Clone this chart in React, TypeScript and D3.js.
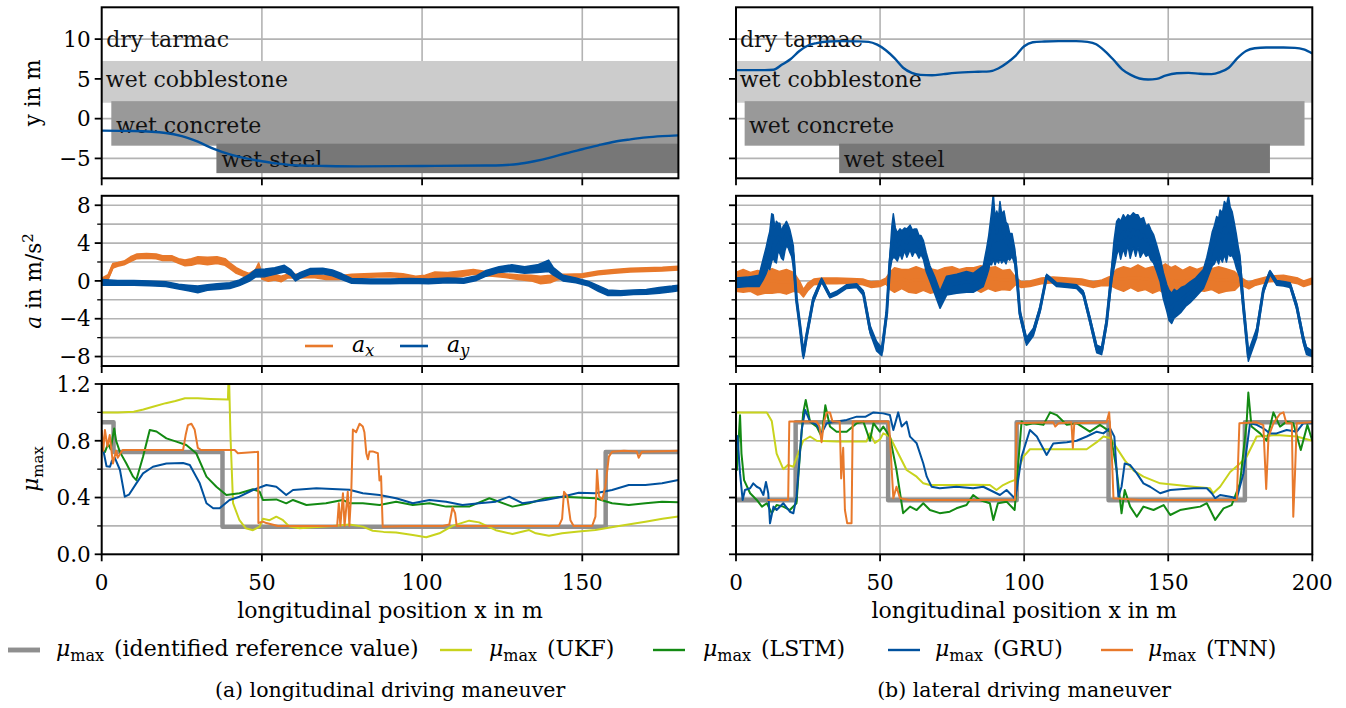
import React from 'react';
import * as d3 from 'd3';

// ---------------- data ----------------
// top panels: lateral position y over x
const yLong: [number, number][] = [[0,-1.5],[10,-1.55],[20,-1.8],[25,-2.2],[30,-2.9],[35,-3.8],[40,-4.5],[45,-5.0],[50,-5.35],[55,-5.65],[60,-5.85],[70,-5.95],[80,-6.0],[100,-5.95],[120,-5.9],[125,-5.85],[130,-5.7],[135,-5.35],[140,-4.9],[145,-4.35],[150,-3.85],[155,-3.35],[160,-2.9],[165,-2.6],[170,-2.35],[175,-2.2],[180,-2.1]];
const yLat: [number, number][] = [[0,6.1],[5,6.1],[10,6.1],[13,6.15],[16,6.8],[19,7.5],[22,8.5],[25,9.2],[28,9.5],[32,9.7],[36,9.75],[42,9.72],[46,9.65],[49,9.3],[52,8.6],[55,7.6],[58,6.4],[61,5.75],[64,5.5],[68,5.45],[72,5.6],[76,5.75],[84,5.9],[88,5.95],[91,6.3],[94,7.0],[97,7.9],[100,9.1],[103,9.6],[107,9.7],[112,9.75],[118,9.75],[122,9.65],[125,9.35],[128,8.5],[131,7.4],[134,6.2],[137,5.5],[140,5.05],[143,4.92],[146,5.0],[149,5.4],[153,5.7],[157,5.75],[161,5.65],[165,5.6],[168,5.85],[171,6.4],[174,7.6],[177,8.5],[180,8.85],[184,8.95],[190,8.95],[194,8.9],[197,8.7],[200,8.2]];

// surfaces: x-start/x-end, y-low/y-high (m); label anchor (m)
const surfaceNames = ['wet cobblestone', 'wet concrete', 'wet steel'];
const surfaceX: [number, number][] = [[0, 210], [3, 197.3], [35.8, 185.3]];
const surfaceY: [number, number][] = [[2.0, 7.25], [-3.4, 2.2], [-6.85, -3.15]];
const surfaceLabelAt: [number, number][] = [[1.3, 5], [4.5, -0.85], [37.4, -5.1]];
const tarmacLabelAt: [number, number] = [1.4, 10];

// acceleration: [x, mean, noise half-width]
const axLong: [number, number, number][] = [[0,0.1,0.2],[2,0.4,0.25],[3.5,1.6,0.25],[5,1.75,0.2],[7,1.9,0.2],[9,2.3,0.25],[11,2.6,0.25],[14,2.65,0.25],[17,2.6,0.25],[19,2.4,0.25],[22,2.4,0.25],[24,2.1,0.25],[26,1.9,0.3],[28,2.0,0.35],[30,2.2,0.35],[33,2.1,0.4],[36,2.2,0.35],[38.5,2.0,0.35],[40,1.6,0.3],[42,1.1,0.3],[44,0.8,0.25],[46,0.55,0.25],[48,0.9,0.3],[49,1.5,0.4],[50,0.5,0.3],[52,0.2,0.25],[54,0.4,0.3],[56,0.2,0.3],[58,0.5,0.2],[62,0.5,0.2],[66,0.55,0.2],[70,0.35,0.2],[74,0.35,0.2],[78,0.5,0.2],[82,0.55,0.2],[86,0.6,0.2],[90,0.65,0.2],[94,0.55,0.2],[98,0.3,0.2],[101,0.3,0.3],[104,0.6,0.35],[108,0.6,0.3],[112,0.75,0.3],[116,0.95,0.25],[119,0.8,0.25],[122,0.7,0.2],[126,0.55,0.2],[130,0.4,0.25],[134,0.3,0.3],[137,0.1,0.4],[140,0.2,0.4],[142,0.4,0.3],[145,0.5,0.2],[150,0.55,0.2],[155,0.85,0.2],[160,1.0,0.2],[165,1.15,0.2],[170,1.2,0.2],[175,1.25,0.2],[180,1.35,0.2]];
const ayLong: [number, number, number][] = [[0,-0.15,0.3],[5,-0.2,0.25],[10,-0.2,0.25],[15,-0.25,0.25],[20,-0.35,0.25],[24,-0.6,0.25],[27,-0.75,0.3],[30,-0.9,0.35],[33,-0.7,0.3],[36,-0.6,0.3],[40,-0.5,0.3],[43,-0.2,0.3],[46,0.3,0.35],[48,0.8,0.4],[51,0.85,0.4],[54,1.05,0.35],[57,1.3,0.35],[59,0.9,0.3],[60.5,0.3,0.3],[62,0.6,0.3],[65,1.0,0.3],[69,1.05,0.3],[72,0.85,0.3],[75,0.45,0.3],[78,0.0,0.25],[84,-0.05,0.25],[90,-0.05,0.25],[96,0.0,0.25],[102,-0.05,0.25],[108,0.05,0.25],[113,0.0,0.25],[117,0.3,0.25],[120,0.8,0.3],[124,1.2,0.3],[128,1.35,0.35],[132,1.15,0.35],[136,1.3,0.4],[139.5,1.6,0.6],[141,1.0,0.4],[144,0.3,0.3],[148,0.05,0.25],[152,-0.3,0.25],[155,-0.8,0.3],[158,-1.25,0.3],[162,-1.3,0.25],[166,-1.2,0.25],[170,-1.15,0.25],[174,-1.0,0.3],[178,-0.85,0.3],[180,-0.75,0.3]];
const axLat: [number, number, number][] = [[0,-0.1,1.0],[2.5,0.0,1.2],[5,-0.1,1.0],[7.5,-0.2,1.3],[10,-0.2,1.1],[12.5,0.0,1.3],[15,-0.1,1.1],[17.5,-0.1,1.3],[20,-0.1,1.0],[22,-0.6,0.6],[23.4,-1.3,0.4],[25,-0.6,0.4],[27,-0.1,0.3],[30,0.0,0.3],[35,0.0,0.3],[40,0.0,0.25],[44,-0.1,0.3],[47,-0.4,0.3],[50,-0.3,0.3],[52,0.0,0.3],[53.4,0.0,0.9],[55,0.1,1.3],[57.5,0.2,1.0],[60,0.0,1.2],[62.5,0.1,1.4],[65,0.1,1.1],[67.5,0.0,1.3],[70,0.0,1.1],[72.5,0.2,1.2],[75,0.1,1.4],[77.5,0.1,1.1],[80,0.1,1.3],[82.5,0.3,1.1],[85,0.2,1.4],[87.5,0.3,1.1],[90,0.2,1.3],[92.5,0.1,1.0],[95,0.1,1.1],[97,0.0,0.4],[99,-0.4,0.3],[102,-0.3,0.3],[106,0.0,0.3],[110,0.1,0.3],[115,0.0,0.3],[120,-0.1,0.3],[124,-0.4,0.3],[127,-0.2,0.3],[130,0.0,0.5],[132,0.2,1.0],[134.5,0.2,1.3],[137,0.3,1.0],[139.5,0.3,1.4],[142,0.2,1.1],[144.5,0.1,1.4],[147,0.2,1.2],[149,0.2,1.6],[151,0.1,1.3],[152.5,0.0,1.6],[155,-0.1,1.2],[157.5,0.1,1.4],[160,0.1,1.1],[162.5,0.2,1.3],[165,0.2,1.1],[167.5,0.1,1.4],[170,0.1,1.2],[173,0.0,1.0],[175,0.0,0.4],[178,-0.5,0.35],[180,-0.2,0.3],[185,0.2,0.3],[190,0.3,0.3],[195,0.0,0.3],[197,-0.3,0.3],[200,0.0,0.3]];
const ayLat: [number, number, number][] = [[0,-0.2,0.5],[4,-0.1,0.5],[8,0.0,0.6],[9.4,1.2,1.1],[10.5,2.2,1.4],[11.2,3.0,1.6],[11.7,3.2,2.0],[12.4,4.6,2.5],[12.9,4.7,2.3],[13.5,3.8,1.8],[14,4.1,2.2],[14.6,4.6,1.5],[15.2,4.5,1.6],[15.8,3.8,1.4],[16.4,4.0,1.8],[17,4.6,1.4],[17.5,5.0,1.3],[18.1,4.7,1.2],[18.7,4.2,1.2],[19.3,3.6,1.0],[19.9,2.6,1.1],[20.4,0.5,0.6],[21,-2.0,0.3],[22.2,-4.8,0.3],[23.4,-7.9,0.3],[24.5,-5.8,0.3],[26.8,-2.0,0.3],[29.7,0.1,0.2],[32.6,-1.6,0.2],[34.9,-1.3,0.2],[38.4,-0.6,0.2],[41.9,-0.5,0.2],[44.2,-1.3,0.25],[46.5,-5.1,0.4],[48.8,-6.9,0.5],[50.6,-7.5,0.4],[52.3,-3.4,0.4],[53.4,1.9,0.8],[54.1,4.0,1.8],[54.6,4.8,2.3],[55.3,4.0,1.6],[56,3.6,1.5],[56.9,4.2,1.3],[57.6,3.8,1.5],[58.5,4.4,1.2],[59.3,4.0,1.5],[60.4,4.6,1.3],[61.2,4.0,1.4],[62,4.3,1.2],[62.7,4.2,1.3],[63.5,3.6,1.2],[64.2,3.8,1.0],[65,3.3,1.0],[66,2.0,1.0],[67.3,0.8,0.8],[69,-0.5,0.9],[70.8,-2.0,0.9],[73.1,-0.5,1.0],[76.6,-0.3,1.0],[80,-0.1,1.1],[82.3,-0.2,1.0],[85.8,0.5,1.1],[87,2.0,1.5],[87.7,3.0,1.8],[88.1,3.8,2.0],[88.7,4.5,2.8],[89.3,5.8,3.5],[89.9,4.2,2.5],[90.5,4.8,2.6],[91.1,4.3,2.4],[91.6,5.4,3.0],[92.2,4.5,2.6],[93,4.8,2.6],[93.7,4.0,2.2],[94.3,4.2,1.8],[95,3.6,1.4],[95.8,3.8,1.2],[96.8,2.5,0.8],[97.6,0.0,0.6],[98.5,-3.4,0.4],[100.8,-6.4,0.4],[103.2,-5.4,0.4],[105.5,-3.0,0.3],[107.8,0.5,0.2],[109,0.2,0.2],[111.3,-0.4,0.2],[115,-0.5,0.2],[118.2,-0.6,0.2],[120.5,-1.3,0.25],[122.8,-4.1,0.3],[125.2,-7.2,0.4],[126.9,-7.4,0.4],[128.6,-4.4,0.4],[130.4,0.8,0.8],[131.2,2.8,1.5],[132.1,4.5,1.8],[132.8,5.0,1.6],[133.5,4.3,2.0],[134.4,5.2,1.8],[135.2,4.6,2.0],[136,5.4,1.6],[136.8,4.6,2.2],[137.9,5.4,1.8],[138.7,4.8,2.2],[139.5,5.3,1.7],[140.3,4.5,2.0],[141.4,4.9,1.8],[142.3,4.2,1.6],[143.2,4.4,1.6],[144,3.8,1.6],[144.9,3.4,1.5],[146,2.4,1.4],[147.2,1.2,1.3],[148.3,-0.5,1.4],[149.5,-1.8,1.4],[150.3,-2.6,1.6],[151.2,-2.9,1.6],[152.1,-2.4,1.5],[153,-2.4,1.3],[154.5,-2.0,1.3],[156,-1.6,1.1],[157.6,-1.2,1.1],[159.5,-0.7,1.0],[161,-0.2,1.0],[162.2,0.2,1.0],[163.4,1.3,1.2],[164.5,2.5,1.5],[165.3,3.4,1.8],[166,3.8,2.0],[166.8,4.6,2.2],[167.5,4.2,2.4],[168,5.0,2.5],[168.8,4.6,2.6],[169.5,5.6,2.8],[170.2,5.0,3.0],[170.9,6.0,3.0],[171.5,5.2,2.6],[172.2,5.0,2.3],[172.9,4.2,2.0],[173.6,3.2,1.8],[174.3,2.2,1.4],[174.9,1.5,1.2],[176.1,-2.7,0.6],[177.8,-8.0,0.5],[180.7,-5.5,0.5],[183,-1.0,0.3],[185.3,0.9,0.2],[187.6,-0.2,0.25],[190,-0.3,0.25],[192.3,-0.45,0.25],[194.6,-2.7,0.3],[196.9,-6.2,0.4],[198,-7.4,0.4],[200,-7.7,0.3]];

// friction estimates [x, mu]
const refLong: [number, number][] = [[0,0.93],[3.7,0.93],[3.7,0.72],[37.7,0.72],[37.7,0.195],[157.3,0.195],[157.3,0.72],[180,0.72]];
const ukfLong: [number, number][] = [[0,1.0],[5,1.0],[10,1.005],[13,1.02],[16,1.04],[20,1.065],[23,1.08],[26,1.1],[30,1.1],[34,1.095],[39.4,1.09],[39.6,1.25],[39.8,1.2],[40.2,0.83],[41,0.36],[43,0.24],[45,0.183],[47.2,0.17],[49.3,0.195],[50.3,0.25],[52.4,0.24],[54.5,0.265],[56.6,0.24],[58.6,0.195],[61.8,0.183],[66,0.19],[72,0.2],[77.3,0.21],[81.5,0.195],[84.6,0.166],[88,0.158],[91.9,0.153],[97.1,0.136],[101.3,0.12],[105.4,0.148],[109.5,0.2],[114.7,0.237],[117.8,0.225],[123,0.17],[128.2,0.143],[133.4,0.171],[135.5,0.148],[139.6,0.131],[143.7,0.148],[148.9,0.16],[154.1,0.171],[161.4,0.2],[169.7,0.23],[175,0.25],[180,0.267]];
const lstmLong: [number, number][] = [[0,0.74],[1,0.72],[2,0.78],[2.8,0.74],[3.9,0.887],[4.5,0.8],[5.7,0.72],[7.7,0.64],[9.8,0.547],[10.8,0.523],[12.9,0.688],[15,0.876],[17.1,0.865],[20.2,0.817],[23.3,0.794],[26.4,0.77],[29.5,0.712],[32.7,0.547],[35.8,0.476],[38.9,0.418],[43,0.43],[47.2,0.458],[49.3,0.442],[50.3,0.383],[54.5,0.387],[57.6,0.359],[59.7,0.383],[63.9,0.347],[70,0.359],[75.2,0.383],[77.3,0.36],[81.5,0.36],[86.7,0.347],[91.9,0.371],[97.1,0.347],[102.3,0.36],[107.5,0.336],[114.7,0.336],[121,0.395],[128.2,0.336],[133.4,0.36],[138.5,0.395],[143.7,0.406],[148.9,0.4],[154.1,0.395],[159.3,0.36],[164.5,0.347],[169.7,0.36],[174.9,0.371],[180,0.367]];
const gruLong: [number, number][] = [[0,0.78],[0.8,0.7],[1.5,0.62],[2.6,0.617],[3.2,0.66],[4.1,0.68],[5.7,0.594],[7.2,0.406],[8.5,0.42],[10.8,0.5],[12.9,0.57],[16,0.617],[20.2,0.64],[25.4,0.643],[27.5,0.629],[30.6,0.5],[32.7,0.36],[34.8,0.324],[36.8,0.324],[39.9,0.383],[43,0.406],[47.2,0.453],[51.4,0.488],[54.5,0.476],[57.6,0.418],[59.7,0.453],[67,0.465],[72,0.46],[77.3,0.455],[81.5,0.43],[86.7,0.418],[91.9,0.395],[97.1,0.36],[102.3,0.383],[107.5,0.371],[112.6,0.347],[117.8,0.36],[123,0.371],[127.2,0.406],[131.3,0.36],[138.5,0.383],[143.7,0.406],[148.9,0.434],[154.1,0.43],[159.3,0.453],[164.5,0.488],[169.7,0.488],[174.9,0.5],[180,0.523]];
const tnnLong: [number, number][] = [[0,0.876],[0.5,0.73],[1,0.876],[1.8,0.76],[2.5,0.84],[3.5,0.64],[4.5,0.73],[5,0.68],[6.5,0.735],[15,0.735],[25.4,0.735],[26.2,0.84],[26.9,0.91],[28,0.92],[29,0.88],[30,0.75],[31,0.735],[41.5,0.735],[42.5,0.712],[48,0.72],[48.8,0.722],[48.9,0.22],[50.3,0.23],[51.4,0.22],[55,0.2],[65,0.2],[73.5,0.2],[74,0.36],[74.5,0.2],[75.3,0.43],[75.8,0.2],[76.8,0.44],[77.3,0.2],[77.9,0.44],[78.4,0.88],[79.4,0.86],[80.5,0.92],[81.5,0.9],[82,0.86],[82.6,0.71],[83.1,0.67],[83.6,0.725],[84.6,0.725],[86.2,0.712],[86.7,0.52],[87.2,0.55],[87.7,0.195],[95,0.2],[106.5,0.2],[108.5,0.21],[109.5,0.33],[110.3,0.29],[110.8,0.2],[125,0.2],[142.7,0.2],[143.7,0.25],[144.3,0.44],[145.3,0.41],[146.3,0.24],[147.3,0.2],[153.1,0.2],[154.1,0.265],[154.6,0.594],[155.2,0.41],[156.2,0.383],[157.2,0.476],[158.3,0.688],[159.3,0.723],[163,0.73],[167,0.725],[167.6,0.68],[168.6,0.723],[180,0.73]];

const refLat: [number, number][] = [[0,0.38],[20.7,0.38],[20.7,0.93],[52.8,0.93],[52.8,0.38],[97.4,0.38],[97.4,0.93],[129.3,0.93],[129.3,0.38],[176.6,0.38],[176.6,0.93],[200,0.93]];
const ukfLat: [number, number][] = [[0,1.0],[5,1.0],[10.7,1.0],[12.4,0.94],[14.1,0.71],[16.4,0.6],[18,0.63],[19.9,0.617],[21,0.68],[23.3,0.8],[25.7,0.83],[28,0.8],[35,0.795],[45.3,0.795],[46.5,0.852],[48.2,0.785],[50,0.81],[51.1,0.852],[53.4,0.829],[55.7,0.735],[59.2,0.594],[62.7,0.547],[65,0.5],[67.3,0.488],[75,0.488],[82,0.49],[88.1,0.488],[90.4,0.453],[92.7,0.488],[95,0.51],[96.7,0.523],[97.4,0.57],[99.7,0.687],[102,0.74],[110,0.74],[121.7,0.74],[125.2,0.79],[127.5,0.83],[129.8,0.82],[132.1,0.75],[135,0.66],[138,0.59],[141.4,0.547],[147.2,0.5],[153,0.488],[158.8,0.476],[164.5,0.465],[165.6,0.43],[168,0.476],[171.5,0.58],[174.9,0.64],[177.2,0.687],[180.7,0.83],[187.6,0.84],[194.6,0.83],[200,0.8]];
const lstmLat: [number, number][] = [[0.3,0.59],[1.4,0.98],[1.9,0.71],[2.8,0.523],[4.9,0.43],[7.2,0.383],[9,0.336],[10.7,0.36],[12.4,0.29],[14.1,0.347],[16.4,0.336],[18.7,0.312],[21,0.36],[22.2,0.71],[23.3,0.994],[24.2,1.087],[25.7,0.935],[28,0.9],[29.7,0.829],[31,1.05],[32.6,0.9],[34.9,0.864],[38.4,0.864],[41.9,0.924],[44.2,0.935],[46.5,0.8],[47.7,0.924],[49.9,0.864],[51.1,0.9],[53.4,0.829],[55.7,0.594],[58,0.29],[60.4,0.336],[62.7,0.312],[65,0.36],[67.3,0.312],[70.7,0.29],[74.2,0.3],[76.5,0.324],[80,0.347],[82.3,0.418],[84.6,0.383],[88.1,0.36],[89.3,0.242],[90.9,0.36],[93.9,0.371],[96.7,0.312],[97.4,0.5],[99.1,0.935],[100.8,0.912],[103.2,0.924],[106.7,0.912],[109,1.0],[111.3,0.981],[114.8,0.912],[118.2,0.924],[122.8,0.864],[126.3,0.912],[129.8,0.864],[132.1,0.594],[133.8,0.289],[134.9,0.453],[136.8,0.336],[139.1,0.265],[141.4,0.336],[144.9,0.312],[148.4,0.347],[150.7,0.277],[154.1,0.312],[157.6,0.324],[161.1,0.336],[163.4,0.36],[166.3,0.242],[169.2,0.324],[172,0.347],[174.9,0.5],[177.2,0.924],[177.8,1.14],[178.9,0.9],[181.9,0.852],[184.2,0.8],[186.5,1.0],[188.8,0.9],[191.1,0.935],[193.4,0.924],[196,0.735],[198.3,0.912],[200,0.8]];
const gruLat: [number, number][] = [[0.5,0.84],[1.4,0.57],[2.3,0.383],[3.1,0.453],[4.9,0.465],[6,0.5],[7.2,0.476],[8.3,0.465],[9.5,0.418],[10.4,0.51],[11.2,0.43],[11.8,0.218],[13,0.336],[14.1,0.312],[16.4,0.36],[18.7,0.3],[19.9,0.289],[21,0.406],[22.8,0.876],[24,1.017],[25.7,0.935],[28,0.912],[29.7,0.852],[31.5,0.924],[34.9,0.935],[38.4,0.947],[41.9,0.97],[45,0.97],[47.7,1.0],[51.1,0.993],[53.4,0.981],[54.6,0.876],[56.3,1.0],[57.5,0.9],[59.2,0.935],[60.4,0.829],[62.7,0.782],[65,0.64],[66.2,0.547],[67.9,0.476],[70.7,0.465],[76.5,0.476],[82.3,0.465],[85.8,0.476],[88.1,0.453],[91.6,0.418],[93.9,0.453],[96.7,0.395],[97.4,0.453],[99.1,0.687],[102,0.876],[104.4,0.83],[107.8,0.7],[110.1,0.78],[114.8,0.79],[118.2,0.8],[121.7,0.83],[125.2,0.864],[127.5,0.852],[129.8,0.888],[131.3,0.829],[132.7,0.406],[133.8,0.476],[134.9,0.64],[136.8,0.629],[139.1,0.57],[141.4,0.5],[143.7,0.476],[147.2,0.43],[150.7,0.453],[154.1,0.458],[158.8,0.465],[163.4,0.465],[165.1,0.43],[166.3,0.395],[168,0.418],[171.5,0.406],[173.8,0.395],[176.1,0.57],[178.4,0.924],[180.7,0.912],[183,0.888],[185.3,0.852],[187.6,0.852],[191.1,0.876],[194.6,0.864],[196.9,0.924],[200,0.924]];
const tnnLat: [number, number][] = [[10.9,0.383],[18.1,0.383],[18.5,0.935],[28,0.935],[29,0.9],[29.7,0.79],[30.5,0.93],[31.5,1.0],[32.6,1.0],[33.5,0.935],[36,0.935],[36.5,0.535],[37.2,0.75],[37.8,0.312],[38.6,0.218],[40.1,0.218],[40.5,0.935],[52.8,0.935],[53.4,0.829],[54.6,0.395],[55.7,0.476],[56.9,0.395],[60,0.383],[80,0.383],[96.8,0.383],[97.4,0.923],[110.1,0.93],[110.8,0.9],[111.9,0.923],[116.4,0.93],[116.9,0.75],[117.4,0.923],[128.6,0.93],[129.5,1.0],[130.4,0.712],[131,0.395],[140,0.383],[173.8,0.383],[174.7,0.923],[180.7,0.93],[183,0.91],[184,0.46],[184.8,0.829],[186.5,0.923],[188.8,0.99],[190,1.0],[191,0.923],[192.9,0.923],[193.4,0.265],[194,0.57],[194.6,0.923],[200,0.93]];

// tick values
const xTicksLong = [0, 50, 100, 150];
const xTicksLat = [0, 50, 100, 150, 200];
const yTicksTop = [-5, 0, 5, 10];
const yTicksMid = [-8, -4, 0, 4, 8];
const yMinorMid = [-6, -2, 2, 6];
const yTicksBot = [0, 0.4, 0.8, 1.2];
const yMinorBot = [0.2, 0.6, 1.0];

const legendNames = ['(identified reference value)', '(UKF)', '(LSTM)', '(GRU)', '(TNN)'];
const captions = ['(a) longitudinal driving maneuver', '(b) lateral driving maneuver'];

// ---------------- styles / layout ----------------
const FONT = "'DejaVu Serif', serif";
const FS = 21.5;
const FS_LEG = 22;
const FS_CAP = 20.5;
const BLUE = '#00519e';
const ORANGE = '#e8792b';
const GREEN = '#138a13';
const YG = '#c8d31d';
const GRAYREF = '#8f8f8f';
const GRID = '#b3b3b3';
const SURF_COLORS = ['#cccccc', '#999999', '#777777'];
const MU_COLORS = [GRAYREF, YG, GREEN, BLUE, ORANGE];
const MU_WIDTHS = [4.5, 2, 2, 2, 2];
const SVG_W = 1346;
const SVG_H = 708;

const COLS = [
  { x0: 101.7, x1: 678.4, dom: [0, 180], ticks: xTicksLong },
  { x0: 736, x1: 1312.3, dom: [0, 200], ticks: xTicksLat },
];
const ROWS = [
  { y0: 7.3, y1: 178.3, dom: [-7.5, 14], major: yTicksTop, minor: [] as number[] },
  { y0: 195.8, y1: 366, dom: [-9, 9], major: yTicksMid, minor: yMinorMid },
  { y0: 384, y1: 554.3, dom: [0, 1.2], major: yTicksBot, minor: yMinorBot },
];

function fmt(r: number, v: number) {
  if (r === 2) return v.toFixed(1);
  return v < 0 ? '\u2212' + Math.abs(v) : String(v);
}

function Frame(props: { c: number; r: number; children?: any }) {
  const { c, r, children } = props;
  const col = COLS[c];
  const row = ROWS[r];
  const x = d3.scaleLinear().domain(col.dom).range([col.x0, col.x1]);
  const y = d3.scaleLinear().domain(row.dom).range([row.y1, row.y0]);
  const id = 'clip-' + c + '-' + r;
  const gridY = [...row.major, ...row.minor].filter((v) => v > row.dom[0] && v < row.dom[1]);
  const gridX = col.ticks.filter((v) => v > col.dom[0] && v < col.dom[1]);
  return (
    <g>
      <defs>
        <clipPath id={id}>
          <rect x={col.x0} y={row.y0} width={col.x1 - col.x0} height={row.y1 - row.y0} />
        </clipPath>
      </defs>
      <g clipPath={'url(#' + id + ')'}>
        {gridY.map((v) => (
          <line key={'gy' + v} x1={col.x0} x2={col.x1} y1={y(v)} y2={y(v)} stroke={GRID} strokeWidth={1.6} />
        ))}
        {gridX.map((v) => (
          <line key={'gx' + v} x1={x(v)} x2={x(v)} y1={row.y0} y2={row.y1} stroke={GRID} strokeWidth={1.6} />
        ))}
        {children}
      </g>
      <rect x={col.x0} y={row.y0} width={col.x1 - col.x0} height={row.y1 - row.y0} fill="none" stroke="#000" strokeWidth={2} />
      {row.major.map((v) => (
        <g key={'ym' + v}>
          <line x1={col.x0 - 7} x2={col.x0} y1={y(v)} y2={y(v)} stroke="#000" strokeWidth={1.8} />
          {c === 0 && (
            <text x={col.x0 - 11} y={y(v)} dy="0.36em" textAnchor="end" fontFamily={FONT} fontSize={FS}>
              {fmt(r, v)}
            </text>
          )}
        </g>
      ))}
      {row.minor.map((v) => (
        <line key={'yn' + v} x1={col.x0 - 4.5} x2={col.x0} y1={y(v)} y2={y(v)} stroke="#000" strokeWidth={1.3} />
      ))}
      {col.ticks.map((v) => (
        <g key={'xt' + v}>
          <line x1={x(v)} x2={x(v)} y1={row.y1} y2={row.y1 + 7} stroke="#000" strokeWidth={1.8} />
          {r === 2 && (
            <text x={x(v)} y={589.5} textAnchor="middle" fontFamily={FONT} fontSize={FS}>
              {v}
            </text>
          )}
        </g>
      ))}
    </g>
  );
}

function TopContent(props: { c: number; path: [number, number][] }) {
  const { c, path } = props;
  const col = COLS[c];
  const row = ROWS[0];
  const x = d3.scaleLinear().domain(col.dom).range([col.x0, col.x1]);
  const y = d3.scaleLinear().domain(row.dom).range([row.y1, row.y0]);
  const line = d3.line<[number, number]>().x((d) => x(d[0])).y((d) => y(d[1])).curve(d3.curveMonotoneX);
  return (
    <g>
      {surfaceNames.map((n, i) => (
        <rect
          key={n}
          x={x(surfaceX[i][0])}
          width={x(surfaceX[i][1]) - x(surfaceX[i][0])}
          y={y(surfaceY[i][1])}
          height={y(surfaceY[i][0]) - y(surfaceY[i][1])}
          fill={SURF_COLORS[i]}
        />
      ))}
      <text x={x(tarmacLabelAt[0])} y={y(tarmacLabelAt[1])} dy="0.36em" fontFamily={FONT} fontSize={22} fill="#111">
        dry tarmac
      </text>
      {surfaceNames.map((n, i) => (
        <text key={'l' + n} x={x(surfaceLabelAt[i][0])} y={y(surfaceLabelAt[i][1])} dy="0.36em" fontFamily={FONT} fontSize={22} fill="#111">
          {n}
        </text>
      ))}
      <path d={line(path) || ''} fill="none" stroke={BLUE} strokeWidth={2.4} />
    </g>
  );
}

function AccContent(props: { c: number; ax: [number, number, number][]; ay: [number, number, number][] }) {
  const { c, ax, ay } = props;
  const col = COLS[c];
  const row = ROWS[1];
  const x = d3.scaleLinear().domain(col.dom).range([col.x0, col.x1]);
  const y = d3.scaleLinear().domain(row.dom).range([row.y1, row.y0]);
  const band = d3
    .area<[number, number, number]>()
    .x((d) => x(d[0]))
    .y0((d) => y(d[1] - d[2]))
    .y1((d) => y(d[1] + d[2]));
  const mid = d3.line<[number, number, number]>().x((d) => x(d[0])).y((d) => y(d[1]));
  const items: { data: [number, number, number][]; color: string }[] = [
    { data: ax, color: ORANGE },
    { data: ay, color: BLUE },
  ];
  return (
    <g>
      {items.map((it, i) => (
        <g key={i}>
          <path d={band(it.data) || ''} fill={it.color} stroke={it.color} strokeWidth={1.5} strokeLinejoin="round" />
          <path d={mid(it.data) || ''} fill="none" stroke={it.color} strokeWidth={3} strokeLinejoin="round" />
        </g>
      ))}
    </g>
  );
}

function MuContent(props: { c: number; series: [number, number][][] }) {
  const { c, series } = props;
  const col = COLS[c];
  const row = ROWS[2];
  const x = d3.scaleLinear().domain(col.dom).range([col.x0, col.x1]);
  const y = d3.scaleLinear().domain(row.dom).range([row.y1, row.y0]);
  const line = d3.line<[number, number]>().x((d) => x(d[0])).y((d) => y(d[1]));
  return (
    <g>
      {series.map((s, i) => (
        <path key={i} d={line(s) || ''} fill="none" stroke={MU_COLORS[i]} strokeWidth={MU_WIDTHS[i]} strokeLinejoin="round" />
      ))}
    </g>
  );
}

function MuLabel(props: { sub: number }) {
  return (
    <>
      <tspan fontStyle="italic">μ</tspan>
      <tspan fontSize={props.sub} dy={5}>max</tspan>
    </>
  );
}

export default function App() {
  const legendX = [8, 440, 653, 888, 1101];
  const legendTextX = [56, 489, 703, 935, 1148];
  const legendParenX = [0, 547, 761, 993, 1206];
  return (
    <svg width={SVG_W} height={SVG_H} style={{ position: 'absolute', left: 0, top: 0, display: 'block', background: '#fff' }} fontFamily={FONT}>
      <rect x={0} y={0} width={SVG_W} height={SVG_H} fill="#fff" />
      <Frame c={0} r={0}>
        <TopContent c={0} path={yLong} />
      </Frame>
      <Frame c={1} r={0}>
        <TopContent c={1} path={yLat} />
      </Frame>
      <Frame c={0} r={1}>
        <AccContent c={0} ax={axLong} ay={ayLong} />
      </Frame>
      <Frame c={1} r={1}>
        <AccContent c={1} ax={axLat} ay={ayLat} />
      </Frame>
      <Frame c={0} r={2}>
        <MuContent c={0} series={[refLong, ukfLong, lstmLong, gruLong, tnnLong]} />
      </Frame>
      <Frame c={1} r={2}>
        <MuContent c={1} series={[refLat, ukfLat, lstmLat, gruLat, tnnLat]} />
      </Frame>

      <line x1={305} x2={333} y1={346} y2={346} stroke={ORANGE} strokeWidth={2.6} />
      <text x={352} y={352} fontSize={FS_LEG} fontFamily={FONT}>
        <tspan fontStyle="italic">a</tspan>
        <tspan fontStyle="italic" fontSize={16} dy={4}>x</tspan>
      </text>
      <line x1={400} x2={428} y1={346} y2={346} stroke={BLUE} strokeWidth={2.6} />
      <text x={447} y={352} fontSize={FS_LEG} fontFamily={FONT}>
        <tspan fontStyle="italic">a</tspan>
        <tspan fontStyle="italic" fontSize={16} dy={4}>y</tspan>
      </text>

      <text transform="translate(40,92.8) rotate(-90)" textAnchor="middle" fontSize={FS} fontFamily={FONT}>
        y in m
      </text>
      <text transform="translate(41,281) rotate(-90)" textAnchor="middle" fontSize={FS} fontFamily={FONT}>
        <tspan fontStyle="italic">a</tspan>
        <tspan> in m/s</tspan>
        <tspan fontSize={15} dy={-8}>2</tspan>
      </text>
      <text transform="translate(38,469) rotate(-90)" textAnchor="middle" fontSize={FS} fontFamily={FONT}>
        <MuLabel sub={15} />
      </text>

      {COLS.map((col, i) => (
        <text key={'xl' + i} x={(col.x0 + col.x1) / 2} y={618} textAnchor="middle" fontSize={FS_LEG} fontFamily={FONT}>
          longitudinal position x in m
        </text>
      ))}

      {legendNames.map((n, i) => (
        <g key={'lg' + i}>
          <line x1={legendX[i]} x2={legendX[i] + 32} y1={650} y2={650} stroke={MU_COLORS[i]} strokeWidth={MU_WIDTHS[i] + 0.4} />
          <text x={legendTextX[i]} y={656} fontSize={FS_LEG} fontFamily={FONT}>
            <MuLabel sub={16} />
          </text>
          <text x={i === 0 ? legendTextX[i] + 58 : legendParenX[i]} y={656} fontSize={FS_LEG} fontFamily={FONT}>
            {n}
          </text>
        </g>
      ))}

      {COLS.map((col, i) => (
        <text key={'cap' + i} x={(col.x0 + col.x1) / 2} y={697} textAnchor="middle" fontSize={FS_CAP} fontFamily={FONT}>
          {captions[i]}
        </text>
      ))}
    </svg>
  );
}
